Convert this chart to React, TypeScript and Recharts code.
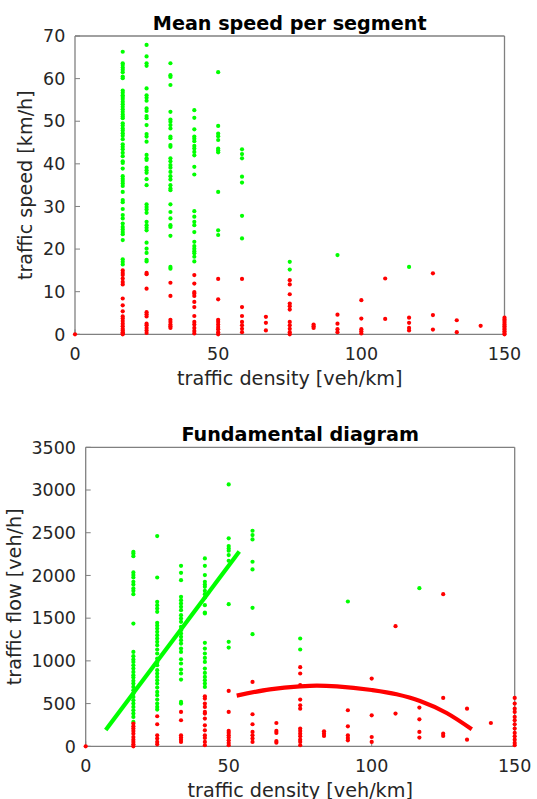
import { ScatterChart, Scatter, XAxis, YAxis } from "recharts";

// density bins [veh/km]
const densityCols = [0, 16.67, 25, 33.33, 41.67, 50, 58.33, 66.67, 75, 83.33, 91.67, 100, 108.33, 116.67, 125, 133.33, 141.67, 150];

// mean speed [km/h], free flow (green) per density bin
const speedFree = [
  [],
  [66.3, 63.6, 63.2, 62.6, 62.1, 61.5, 60.5, 60.1, 57.2, 56.7, 56.1, 55.7, 55.2, 54.6, 54.0, 53.4, 52.8, 52.2, 51.6, 51.1, 50.7, 49.5, 49.0, 48.3, 47.8, 47.2, 46.6, 45.8, 44.6, 44.0, 43.4, 42.6, 41.8, 40.6, 40.2, 38.9, 37.1, 36.5, 36.0, 35.4, 34.8, 33.4, 31.5, 31.0, 29.4, 28.0, 27.2, 26.0, 25.2, 24.6, 24.0, 23.5, 22.1, 17.6, 17.0, 16.4],
  [67.9, 65.2, 63.6, 63.0, 57.7, 56.1, 55.5, 54.8, 53.0, 52.4, 51.2, 50.7, 49.1, 47.0, 46.4, 45.2, 42.1, 41.3, 40.9, 39.1, 38.5, 37.9, 36.4, 35.0, 30.5, 29.9, 29.3, 28.5, 26.4, 25.6, 25.0, 24.4, 21.5, 20.1, 19.1, 17.5, 17.1],
  [63.6, 60.8, 60.4, 58.5, 52.2, 50.4, 49.9, 49.1, 48.3, 46.4, 46.0, 44.4, 44.0, 41.3, 40.6, 39.7, 39.1, 38.1, 37.1, 36.3, 35.0, 34.2, 33.8, 30.5, 28.7, 27.2, 25.6, 25.2, 23.1, 15.8, 15.4],
  [52.6, 50.8, 48.1, 46.4, 45.9, 45.3, 44.2, 43.6, 42.8, 42.0, 39.3, 37.5, 28.9, 27.6, 26.4, 25.6, 24.0, 21.7, 20.7, 20.1, 19.5, 19.0, 18.2, 17.1],
  [61.5, 48.9, 47.1, 46.5, 45.6, 43.6, 43.2, 42.7, 33.4, 24.4, 23.3],
  [43.4, 42.3, 41.3, 37.0, 35.6, 27.8, 22.5],
  [],
  [17.0, 15.2],
  [],
  [18.6],
  [],
  [],
  [15.8],
  [], [], [], [],
];

// mean speed [km/h], congested (red) per density bin
const speedJam = [
  [0],
  [15.0, 14.4, 13.9, 13.1, 12.3, 11.7, 8.4, 6.8, 5.4, 4.2, 3.7, 3.1, 2.5, 1.9, 1.3, 0.9, 0.5, 0.2, 0],
  [14.4, 14.1, 10.7, 5.2, 4.7, 4.2, 2.5, 2.1, 1.5, 0.9, 0.3],
  [12.1, 9.0, 3.4, 2.9, 2.3, 1.9, 1.5],
  [13.9, 11.9, 9.9, 9.6, 9.0, 7.6, 6.4, 4.3, 2.9, 2.3, 1.5, 0.8, 0.2],
  [13.0, 8.2, 3.4, 2.9, 2.3, 1.7, 1.2, 0.5, 0],
  [13.0, 6.4, 4.3, 2.9, 2.1, 1.3, 0.5],
  [4.1, 2.7, 0.9],
  [12.7, 11.7, 9.4, 7.2, 6.6, 5.8, 2.9, 2.1, 1.3, 0.5, 0],
  [2.3, 1.9, 1.5],
  [4.6, 2.5, 1.2, 0.5],
  [8.0, 3.7, 1.2, 0.7, 0.2],
  [13.1, 3.6],
  [3.9, 2.7, 1.5, 0.9],
  [14.3, 4.5, 1.1],
  [3.3, 0.5],
  [2.0],
  [3.9, 3.5, 3.1, 2.7, 2.3, 1.9, 1.5, 1.1, 0.7, 0.3, 0],
];

// traffic flow [veh/h], free flow (green) per density bin
const flowFree = [
  [],
  [2277, 2258, 2226, 2035, 2004, 1976, 1926, 1894, 1848, 1820, 1781, 1437, 1105, 1055, 1016, 988, 949, 910, 871, 832, 805, 766, 734, 695, 656, 617, 578, 539, 500, 461, 422, 383, 344, 285],
  [2461, 1976, 1691, 1652, 1613, 1574, 1445, 1414, 1379, 1340, 1301, 1262, 1223, 1184, 1133, 1086, 1027, 980, 949, 891, 852, 812, 773, 734, 687, 637, 598, 547, 500, 461, 430],
  [2113, 2031, 1945, 1750, 1711, 1672, 1633, 1594, 1535, 1496, 1457, 1398, 1359, 1320, 1281, 1242, 1203, 1144, 1105, 1019, 969, 898, 852, 781, 520, 500],
  [2199, 2113, 2004, 1926, 1894, 1867, 1820, 1781, 1742, 1652, 1566, 1555, 1211, 1144, 1086, 1035, 988, 910, 859, 812, 773, 734, 695],
  [3066, 2434, 2344, 2316, 2289, 2238, 2172, 1664, 1223, 1156],
  [2523, 2473, 2422, 2160, 2070, 1621, 1312],
  [],
  [1262, 1133],
  [],
  [1695],
  [],
  [],
  [1851],
  [], [], [], [],
];

// traffic flow [veh/h], congested (red) per density bin
const flowJam = [
  [0],
  [266, 234, 207, 180, 148, 109, 78, 51, 23, 0],
  [352, 258, 129, 90, 51, 23],
  [402, 305, 129, 102, 78, 51],
  [586, 559, 500, 461, 402, 383, 324, 246, 187, 129, 98, 51, 12],
  [648, 402, 180, 156, 129, 102, 70, 39, 12],
  [754, 375, 258, 168, 129, 90, 51],
  [273, 180, 156, 62, 43],
  [926, 852, 715, 547, 480, 441, 207, 180, 148, 117, 78, 51, 12],
  [176, 148, 121],
  [422, 234, 129, 98, 70],
  [793, 363, 109, 51],
  [1406, 383],
  [453, 316, 168, 102],
  [1781, 566, 148, 121],
  [441, 78],
  [273],
  [566, 500, 441, 402, 344, 305, 258, 207, 156, 117, 78, 39, 12],
];

// fitted branches of the fundamental diagram
const freeLineK = [7.0, 53.7];
const freeLineQ = [190, 2280];
const jamCurveK = [52.8, 64.4, 74.9, 80.8, 87.8, 100, 108.7, 116.9, 126.2, 135];
const jamCurveQ = [593, 667, 702, 710, 702, 659, 609, 531, 390, 199];

const xTicks = [0, 50, 100, 150];
const speedTicks = [0, 10, 20, 30, 40, 50, 60, 70];
const flowTicks = [0, 500, 1000, 1500, 2000, 2500, 3000, 3500];

const FONT = "DejaVu Sans";
const INK = "#262626";
const BOX = "#808080";
const GREEN = "#00ff00";
const RED = "#ff0000";

const toPoints = (vals: number[][], key: string) =>
  densityCols.flatMap((k, i) => vals[i].map((v) => ({ k, [key]: v })));

const pairs = (ks: number[], qs: number[]) => ks.map((k, i) => ({ k, q: qs[i] }));

const dot = (color: string) => (p: any) => <circle cx={p.cx} cy={p.cy} r={2.1} fill={color} />;
const noDot = () => <g />;

const tickStyle = { fontSize: 17.5, fill: INK, fontFamily: FONT };
const boxLine = { stroke: BOX, strokeWidth: 1.3 };

function XTitle({ viewBox, text }: any) {
  return (
    <text x={viewBox.x + viewBox.width / 2} y={viewBox.y + 50.5} textAnchor="middle" fontSize={19.2} fill={INK} fontFamily={FONT}>
      {text}
    </text>
  );
}

function YTitle({ viewBox, text, cx }: any) {
  const cy = viewBox.y + viewBox.height / 2;
  return (
    <text x={cx} y={cy} transform={`rotate(-90 ${cx} ${cy})`} textAnchor="middle" dominantBaseline="central" fontSize={19.2} fill={INK} fontFamily={FONT}>
      {text}
    </text>
  );
}

function PlotTitle({ viewBox, text }: any) {
  return (
    <text x={viewBox.x + viewBox.width / 2} y={viewBox.y + viewBox.height - 6.5} textAnchor="middle" fontSize={19.2} fontWeight="bold" fill="#000" fontFamily={FONT}>
      {text}
    </text>
  );
}

function Panel(props: {
  top: number;
  height: number;
  margin: any;
  yWidth: number;
  yKey: string;
  yMax: number;
  yTicks: number[];
  title: string;
  yLabel: string;
  yLabelX: number;
  xAxisHeight: number;
  children: any;
}) {
  const { top, height, margin, yWidth, yKey, yMax, yTicks, title, yLabel, yLabelX, xAxisHeight } = props;
  return (
    <div style={{ position: "absolute", left: 0, top, width: 537, height }}>
      <ScatterChart width={537} height={height} margin={margin} style={{ fontFamily: FONT }}>
        <XAxis
          xAxisId="b"
          type="number"
          dataKey="k"
          domain={[0, 150]}
          ticks={xTicks}
          interval={0}
          height={xAxisHeight}
          tickSize={-5}
          tickMargin={18.3}
          axisLine={boxLine}
          tickLine={{ stroke: BOX }}
          tick={tickStyle}
          label={{ content: (p: any) => <XTitle {...p} text="traffic density [veh/km]" /> }}
        />
        <XAxis
          xAxisId="t"
          orientation="top"
          type="number"
          dataKey="k"
          domain={[0, 150]}
          ticks={xTicks}
          interval={0}
          height={1}
          tickSize={-5}
          tick={false}
          axisLine={boxLine}
          tickLine={{ stroke: BOX }}
          label={{ content: (p: any) => <PlotTitle {...p} text={title} /> }}
        />
        <YAxis
          yAxisId="l"
          type="number"
          dataKey={yKey}
          domain={[0, yMax]}
          ticks={yTicks}
          interval={0}
          width={yWidth}
          tickSize={-5}
          tickMargin={14.7}
          axisLine={boxLine}
          tickLine={{ stroke: BOX }}
          tick={tickStyle}
          label={{ content: (p: any) => <YTitle {...p} text={yLabel} cx={yLabelX} /> }}
        />
        <YAxis
          yAxisId="r"
          orientation="right"
          type="number"
          dataKey={yKey}
          domain={[0, yMax]}
          ticks={yTicks}
          interval={0}
          width={1}
          tickSize={-5}
          tick={false}
          axisLine={boxLine}
          tickLine={{ stroke: BOX }}
        />
        {props.children}
      </ScatterChart>
    </div>
  );
}

export default function App() {
  const speedGreen = toPoints(speedFree, "v");
  const speedRed = toPoints(speedJam, "v");
  const flowGreen = toPoints(flowFree, "q");
  const flowRed = toPoints(flowJam, "q");
  const freeLine = pairs(freeLineK, freeLineQ);
  const jamCurve = pairs(jamCurveK, jamCurveQ);

  return (
    <div style={{ position: "absolute", left: 0, top: 0, width: 537, height: 799, background: "#fff", overflow: "hidden" }}>
      <Panel
        top={0}
        height={400}
        margin={{ top: 35, right: 31.5, left: 0, bottom: 5.7 }}
        yWidth={75}
        yKey="v"
        yMax={70}
        yTicks={speedTicks}
        title="Mean speed per segment"
        yLabel="traffic speed [km/h]"
        yLabelX={26}
        xAxisHeight={60}
      >
        <Scatter xAxisId="b" yAxisId="l" data={speedGreen} fill={GREEN} shape={dot(GREEN)} isAnimationActive={false} />
        <Scatter xAxisId="b" yAxisId="l" data={speedRed} fill={RED} shape={dot(RED)} isAnimationActive={false} />
      </Panel>
      <Panel
        top={400}
        height={399}
        margin={{ top: 46.3, right: 21.3, left: 0, bottom: 0 }}
        yWidth={85.7}
        yKey="q"
        yMax={3500}
        yTicks={flowTicks}
        title="Fundamental diagram"
        yLabel="traffic flow [veh/h]"
        yLabelX={14.7}
        xAxisHeight={52.7}
      >
        <Scatter xAxisId="b" yAxisId="l" data={flowGreen} fill={GREEN} shape={dot(GREEN)} isAnimationActive={false} />
        <Scatter xAxisId="b" yAxisId="l" data={flowRed} fill={RED} shape={dot(RED)} isAnimationActive={false} />
        <Scatter
          xAxisId="b"
          yAxisId="l"
          data={freeLine}
          shape={noDot}
          line={{ stroke: GREEN, strokeWidth: 4.2 }}
          isAnimationActive={false}
        />
        <Scatter
          xAxisId="b"
          yAxisId="l"
          data={jamCurve}
          shape={noDot}
          line={{ stroke: RED, strokeWidth: 4.2 }}
          lineJointType="monotoneX"
          isAnimationActive={false}
        />
      </Panel>
    </div>
  );
}
